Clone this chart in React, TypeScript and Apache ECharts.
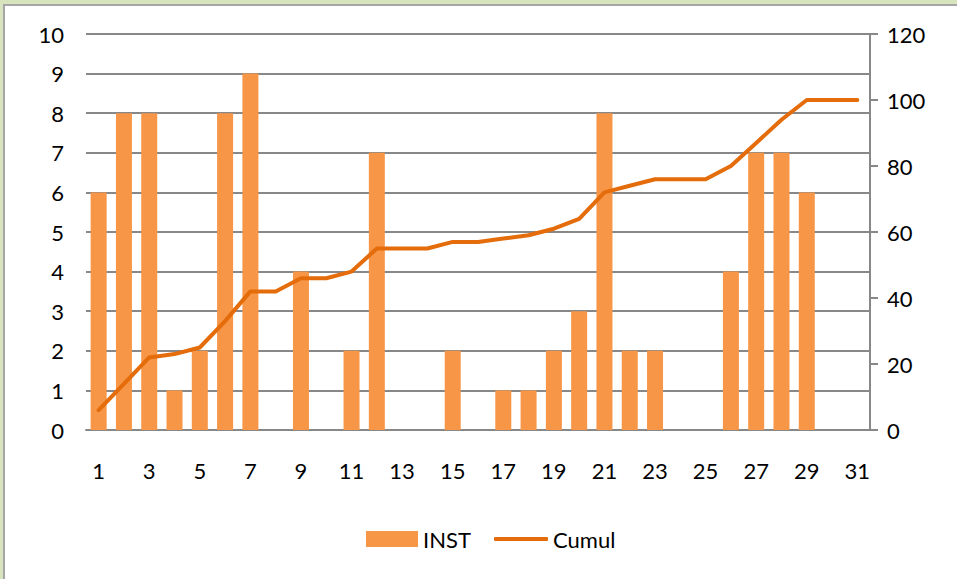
import React, { useEffect, useRef } from "react";
import * as echarts from "echarts";

const categories = Array.from({ length: 31 }, (_, i) => String(i + 1));
const instValues = [6, 8, 8, 1, 2, 8, 9, 0, 4, 0, 2, 7, 0, 0, 2, 0, 1, 1, 2, 3, 8, 2, 2, 0, 0, 4, 7, 7, 6, 0, 0];
const cumulValues = [6, 14, 22, 23, 25, 33, 42, 42, 46, 46, 48, 55, 55, 55, 57, 57, 58, 59, 61, 64, 72, 74, 76, 76, 76, 80, 87, 94, 100, 100, 100];

const FONT = "Lato, 'Open Sans', sans-serif";
const FS = 22;

export default function App() {
  const ref = useRef<HTMLDivElement>(null);
  useEffect(() => {
    if (!ref.current) return;
    const chart = echarts.init(ref.current, null, { renderer: "svg" });
    chart.setOption({
      animation: false,
      backgroundColor: "transparent",
      textStyle: { fontFamily: FONT },
      grid: { left: 81, right: 87, top: 28, bottom: 149, containLabel: false },
      legend: [
        {
          left: 356,
          top: 517,
          itemWidth: 52,
          itemHeight: 16,
          textStyle: { fontSize: FS, color: "#000", fontFamily: FONT },
          data: [{ name: "INST", icon: "rect" }],
        },
        {
          left: 484,
          top: 517,
          itemWidth: 54,
          itemHeight: 4,
          textStyle: { fontSize: FS, color: "#000", fontFamily: FONT },
          data: [{ name: "Cumul", icon: "roundRect", itemStyle: { color: "#E46C0A" } }],
        },
      ],
      xAxis: {
        type: "category",
        data: categories,
        boundaryGap: true,
        axisLine: { show: true, lineStyle: { color: "#888", width: 2 } },
        axisTick: { show: false },
        axisLabel: { interval: 1, fontSize: FS, color: "#000", margin: 29, fontFamily: FONT },
        splitLine: { show: false },
      },
      yAxis: [
        {
          type: "value",
          min: 0,
          max: 10,
          interval: 1,
          axisLine: { show: false },
          axisTick: { show: false },
          axisLabel: { fontSize: FS, color: "#000", margin: 22, fontFamily: FONT },
          splitLine: { show: true, lineStyle: { color: "#888", width: 2 } },
        },
        {
          type: "value",
          min: 0,
          max: 120,
          interval: 20,
          position: "right",
          axisLine: { show: true, lineStyle: { color: "#888", width: 2 } },
          axisTick: { show: true, length: 8, lineStyle: { color: "#888", width: 2 } },
          axisLabel: { fontSize: FS, color: "#000", margin: 17, fontFamily: FONT },
          splitLine: { show: false },
        },
      ],
      series: [
        {
          name: "INST",
          type: "bar",
          data: instValues,
          yAxisIndex: 0,
          barWidth: 16,
          itemStyle: { color: "#F79646" },
        },
        {
          name: "Cumul",
          type: "line",
          data: cumulValues,
          yAxisIndex: 1,
          showSymbol: false,
          symbol: "none",
          lineStyle: { color: "#E46C0A", width: 4, cap: "round", join: "round" },
          itemStyle: { color: "#E46C0A" },
        },
      ],
    });
    return () => chart.dispose();
  }, []);

  return (
    <div style={{ position: "fixed", left: 0, top: 0, width: 957, height: 579, background: "#d7e4bd", overflow: "hidden" }}>
      <div
        style={{
          position: "absolute",
          left: 3,
          top: 4,
          width: 960,
          height: 580,
          background: "#fff",
          borderTop: "2px solid #a6a6a6",
          borderLeft: "2px solid #a6a6a6",
        }}
      >
        <div ref={ref} style={{ width: 952, height: 573 }} />
      </div>
    </div>
  );
}
